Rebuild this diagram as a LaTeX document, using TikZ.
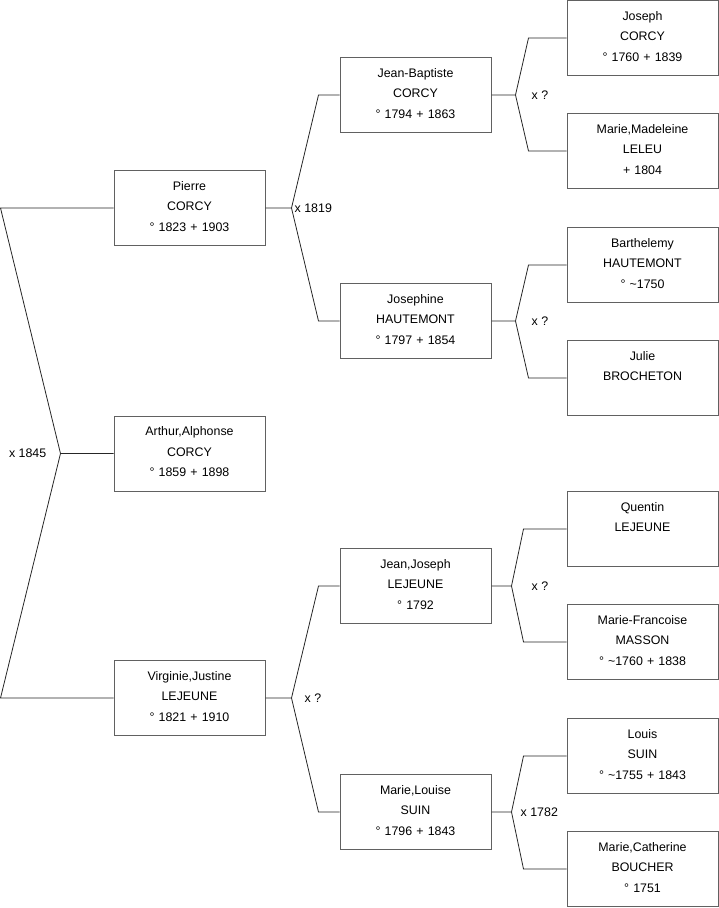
\documentclass[tikz,border=0pt]{standalone}
\usepackage{fontspec}
\setmainfont{Liberation Sans}
\usetikzlibrary{positioning}

\begin{document}
\begin{tikzpicture}[
  x=1pt, y=-1pt,
  person/.style={draw=black!62, line width=1pt, text width=147pt,
    inner xsep=2pt, inner ysep=10pt, align=center,
    text height=9.5pt, text depth=45.5pt,
    font=\fontsize{12.4}{20.5}\selectfont},
  wed/.style={inner sep=1pt, font=\fontsize{12.4}{14}\selectfont},
  link/.style={draw=black!85, line width=0.8pt}
]
  \useasboundingbox (0,0) rectangle (719,908);

  % generation 0 and 1
  \node[person] (arthur) at (189.5,453.5) {Arthur,Alphonse\\CORCY\\° 1859 + 1898};
  \node[person] (pierre) at (189.5,208) {Pierre\\CORCY\\° 1823 + 1903};
  \node[person] (virginie) at (189.5,698) {Virginie,Justine\\LEJEUNE\\° 1821 + 1910};

  % generation 2
  \node[person] (jeanbaptiste) at (415.5,95) {Jean-Baptiste\\CORCY\\° 1794 + 1863};
  \node[person] (josephine) at (415.5,321) {Josephine\\HAUTEMONT\\° 1797 + 1854};
  \node[person] (jeanjoseph) at (415.5,586) {Jean,Joseph\\LEJEUNE\\° 1792};
  \node[person] (marielouise) at (415.5,812) {Marie,Louise\\SUIN\\° 1796 + 1843};

  % generation 3
  \node[person] (joseph) at (642.5,38) {Joseph\\CORCY\\° 1760 + 1839};
  \node[person] (mariemadeleine) at (642.5,151) {Marie,Madeleine\\LELEU\\+ 1804};
  \node[person] (barthelemy) at (642.5,265) {Barthelemy\\HAUTEMONT\\° \textasciitilde1750};
  \node[person] (julie) at (642.5,378) {Julie\\BROCHETON};
  \node[person] (quentin) at (642.5,529) {Quentin\\LEJEUNE};
  \node[person] (mariefrancoise) at (642.5,642) {Marie-Francoise\\MASSON\\° \textasciitilde1760 + 1838};
  \node[person] (louis) at (642.5,756) {Louis\\SUIN\\° \textasciitilde1755 + 1843};
  \node[person] (mariecatherine) at (642.5,869) {Marie,Catherine\\BOUCHER\\° 1751};

  % marriages
  \coordinate[left=53pt of arthur.west] (x1845);
  \draw[link] (arthur.west) -- (x1845) -- ([xshift=-113pt]pierre.west) -- (pierre.west);
  \draw[link] (x1845) -- ([xshift=-113pt]virginie.west) -- (virginie.west);
  \node[wed, left=13pt of x1845] (l1845) {x 1845};

  \coordinate[right=26pt of pierre.east] (x1819);
  \draw[link] (pierre.east) -- (x1819) -- ([xshift=-21pt]jeanbaptiste.west) -- (jeanbaptiste.west);
  \draw[link] (x1819) -- ([xshift=-21pt]josephine.west) -- (josephine.west);
  \node[wed, right=2pt of x1819] (l1819) {x 1819};

  \coordinate[right=26pt of virginie.east] (xvirginie);
  \draw[link] (virginie.east) -- (xvirginie) -- ([xshift=-21pt]jeanjoseph.west) -- (jeanjoseph.west);
  \draw[link] (xvirginie) -- ([xshift=-21pt]marielouise.west) -- (marielouise.west);
  \node[wed, right=12pt of xvirginie] (lvirginie) {x ?};

  \coordinate[right=24pt of jeanbaptiste.east] (xjeanbaptiste);
  \draw[link] (jeanbaptiste.east) -- (xjeanbaptiste) -- ([xshift=-38pt]joseph.west) -- (joseph.west);
  \draw[link] (xjeanbaptiste) -- ([xshift=-38pt]mariemadeleine.west) -- (mariemadeleine.west);
  \node[wed, right=15pt of xjeanbaptiste] (ljeanbaptiste) {x ?};

  \coordinate[right=24pt of josephine.east] (xjosephine);
  \draw[link] (josephine.east) -- (xjosephine) -- ([xshift=-38pt]barthelemy.west) -- (barthelemy.west);
  \draw[link] (xjosephine) -- ([xshift=-38pt]julie.west) -- (julie.west);
  \node[wed, right=15pt of xjosephine] (ljosephine) {x ?};

  \coordinate[right=20pt of jeanjoseph.east] (xjeanjoseph);
  \draw[link] (jeanjoseph.east) -- (xjeanjoseph) -- ([xshift=-43pt]quentin.west) -- (quentin.west);
  \draw[link] (xjeanjoseph) -- ([xshift=-43pt]mariefrancoise.west) -- (mariefrancoise.west);
  \node[wed, right=19pt of xjeanjoseph] (ljeanjoseph) {x ?};

  \coordinate[right=20pt of marielouise.east] (x1782);
  \draw[link] (marielouise.east) -- (x1782) -- ([xshift=-43pt]louis.west) -- (louis.west);
  \draw[link] (x1782) -- ([xshift=-43pt]mariecatherine.west) -- (mariecatherine.west);
  \node[wed, right=8pt of x1782] (l1782) {x 1782};
\end{tikzpicture}
\end{document}
